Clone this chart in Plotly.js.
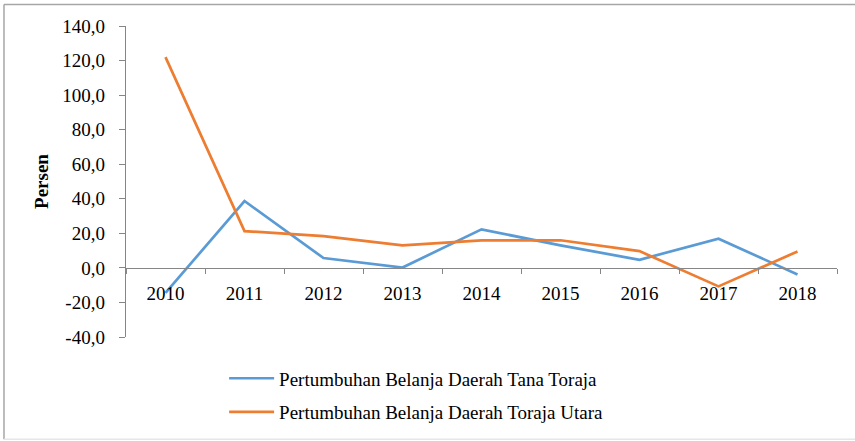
<!DOCTYPE html>
<html>
<head>
<meta charset="utf-8">
<script src="https://cdn.plot.ly/plotly-3.0.1.min.js"></script>
<style>html,body{margin:0;padding:0;background:#fff;}#chart{width:855px;height:441px;}</style>
</head>
<body>
<div id="chart"></div>
<script>
var years = ['2010','2011','2012','2013','2014','2015','2016','2017','2018'];
var tanaToraja = [-14.5, 38.7, 5.7, 0.2, 22.3, 13.0, 4.7, 16.9, -3.8];
var torajaUtara = [122.0, 21.3, 18.4, 13.0, 15.9, 16.0, 9.7, -10.7, 9.5];
var seriesNames = ['Pertumbuhan Belanja Daerah Tana Toraja', 'Pertumbuhan Belanja Daerah Toraja Utara'];
var yTicks = [-40, -20, 0, 20, 40, 60, 80, 100, 120, 140];
var yTickLabels = ['-40,0', '-20,0', '0,0', '20,0', '40,0', '60,0', '80,0', '100,0', '120,0', '140,0'];

var font = 'Liberation Serif';
var traces = [
  {x: years, y: tanaToraja, name: seriesNames[0], type: 'scatter', mode: 'lines', legendgroup: 'a',
   line: {color: '#5B9BD5', width: 2.7}},
  {x: years, y: torajaUtara, name: seriesNames[1], type: 'scatter', mode: 'lines', legendgroup: 'b',
   line: {color: '#ED7D31', width: 2.7}}
];
var layout = {
  width: 855, height: 441,
  margin: {l: 126, r: 18, t: 25.5, b: 104.4, autoexpand: false},
  paper_bgcolor: '#ffffff', plot_bgcolor: '#ffffff',
  separators: ',.',
  font: {family: font, size: 19, color: '#000000'},
  showlegend: true,
  legend: {x: 0.138, y: -0.072, xanchor: 'left', yanchor: 'top', orientation: 'v',
           traceorder: 'grouped', tracegroupgap: 6, itemwidth: 45,
           font: {family: font, size: 19, color: '#000000'}, bgcolor: 'rgba(0,0,0,0)'},
  xaxis: {type: 'category', anchor: 'free', position: 40/180, range: [-0.5, 8.5],
          showline: true, linecolor: '#868686', linewidth: 1.3,
          ticks: 'outside', ticklen: 5, tickcolor: '#868686', tickson: 'boundaries',
          ticklabelstandoff: 8,
          showgrid: false, zeroline: false, fixedrange: true,
          tickfont: {family: font, size: 19, color: '#000000'}},
  yaxis: {range: [-40, 140], tickmode: 'array', tickvals: yTicks, ticktext: yTickLabels,
          showline: true, linecolor: '#868686', linewidth: 1.3,
          ticks: 'outside', ticklen: 6, tickcolor: '#868686',
          ticklabelstandoff: 10,
          showgrid: false, zeroline: false, fixedrange: true,
          tickfont: {family: font, size: 19, color: '#000000'},
          title: {text: '<b>Persen</b>', font: {family: font, size: 19, color: '#000000'}, standoff: 8}},
  shapes: [
    {type: 'line', xref: 'paper', yref: 'paper', x0: -0.1716, x1: 1.04, y0: 1.069, y1: 1.069, line: {color: '#a6a6a6', width: 1.5}},
    {type: 'line', xref: 'paper', yref: 'paper', x0: -0.1716, x1: -0.1716, y0: 1.069, y1: -0.329, line: {color: '#a6a6a6', width: 1.5}},
    {type: 'line', xref: 'paper', yref: 'paper', x0: -0.1716, x1: 1.04, y0: -0.329, y1: -0.329, line: {color: '#e6e6e6', width: 1.5}}
  ]
};
Plotly.newPlot('chart', traces, layout, {staticPlot: true, displayModeBar: false});
</script>
</body>
</html>
